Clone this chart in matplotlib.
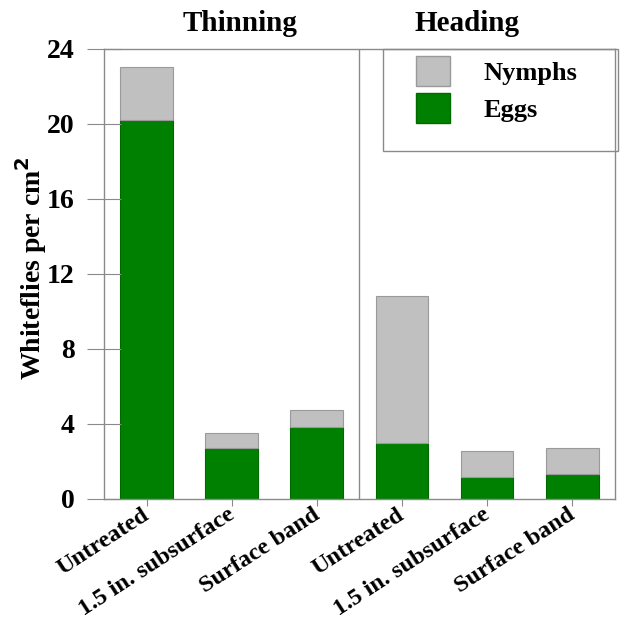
import matplotlib.pyplot as plt
import matplotlib.transforms as mtransforms
import numpy as np
from matplotlib.patches import Patch, Rectangle

plt.rcParams['font.family'] = ['Liberation Serif', 'DejaVu Serif']
plt.rcParams['font.weight'] = 'bold'

# data
treatments = ['Untreated', '1.5 in. subsurface', 'Surface band',
              'Untreated', '1.5 in. subsurface', 'Surface band']
stages = ['Thinning', 'Heading']
eggs = [20.2, 2.72, 3.84, 2.99, 1.17, 1.33]
nymphs = [2.84, 0.80, 0.91, 7.84, 1.39, 1.39]
yticks = [0, 4, 8, 12, 16, 20, 24]

green = '#008000'
grey = '#c0c0c0'
line_col = '#8a8a8a'

fig = plt.figure(figsize=(6.21, 6.27), dpi=100)
ax = fig.add_axes([0.1675, 0.2042, 0.8225, 0.7177])

x = np.arange(len(treatments))
w = 0.62
ax.bar(x, eggs, w, color=green, edgecolor='#006a00', linewidth=0.8, label='Eggs')
ax.bar(x, nymphs, w, bottom=eggs, color=grey, edgecolor='#9a9a9a', linewidth=0.8,
       label='Nymphs')

ax.set_xlim(-0.5, 5.5)
ax.set_ylim(0, 24)
ax.axvline(2.5, color=line_col, lw=1)

for s in ax.spines.values():
    s.set_color(line_col)
    s.set_linewidth(1)

ax.set_yticks(yticks)
ax.set_yticklabels([str(t) for t in yticks], fontsize=20, fontweight='bold')
ax.tick_params(axis='y', direction='inout', length=24, color=line_col, pad=9)
ax.set_xticks(x)
ax.set_xticklabels(treatments, rotation=33, ha='right', rotation_mode='anchor',
                   fontsize=17.5, fontweight='bold')
ax.tick_params(axis='x', direction='out', length=5, color=line_col, pad=3)
shift = mtransforms.ScaledTranslation(-0.05, 0.06, fig.dpi_scale_trans)
for lab in ax.get_xticklabels():
    lab.set_transform(lab.get_transform() + shift)

ax.set_ylabel('Whiteflies per cm$^\\mathbf{2}$', fontsize=20, fontweight='bold')
ax.yaxis.set_label_coords(-0.108, 0.513)

# stage headings sit a little off the panel centres in the original
title_x = [1.1, 3.76]
for tx, st in zip(title_x, stages):
    ax.text(tx, 1.04, st, transform=ax.get_xaxis_transform(),
            ha='center', va='baseline', fontsize=21, fontweight='bold')

# legend box reaching the right edge, as in the original
ax.add_patch(Rectangle((0.546, 0.773), 0.46, 0.227, transform=ax.transAxes,
                       fill=False, edgecolor=line_col, lw=1, clip_on=False))
handles = [Patch(facecolor=grey, edgecolor='#9a9a9a', label='Nymphs'),
           Patch(facecolor=green, edgecolor='#006a00', label='Eggs')]
leg = ax.legend(handles=handles, loc='upper left', bbox_to_anchor=(0.6106, 0.984),
                frameon=False, fontsize=19, handlelength=1.3, handleheight=1.37,
                handletextpad=1.25, borderpad=0, labelspacing=0.26, borderaxespad=0)
for t in leg.get_texts():
    t.set_fontweight('bold')

fig.savefig('out.png', dpi=100)
